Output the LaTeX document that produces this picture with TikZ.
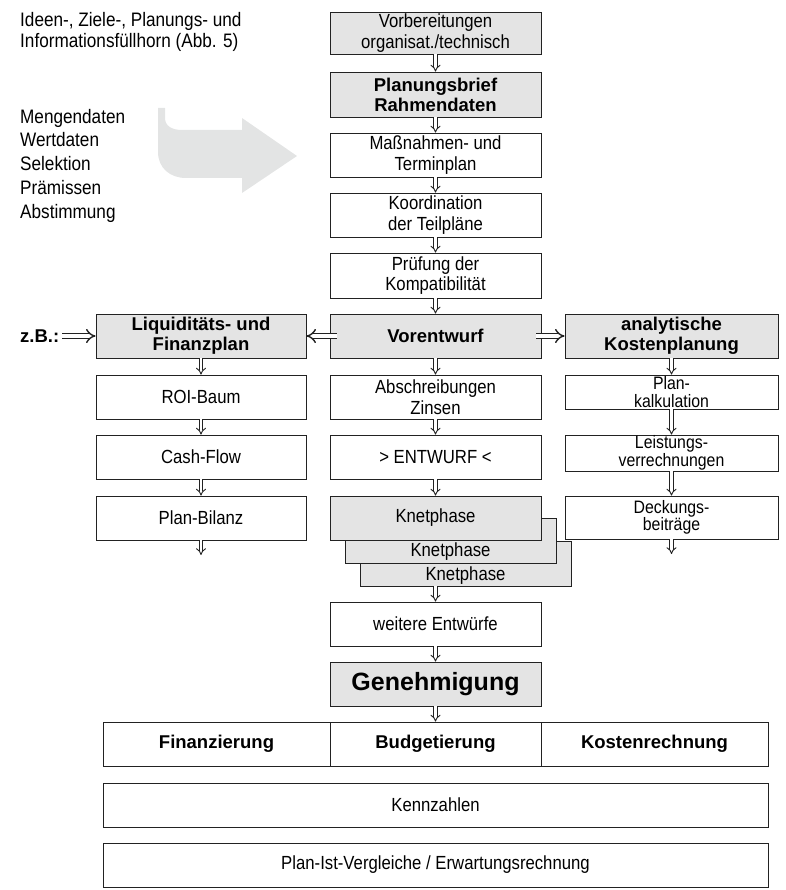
\documentclass[tikz,border=0pt]{standalone}
\usepackage{fontspec}
\setmainfont{Liberation Sans}[FakeStretch=0.88]
\newfontfamily\bfam{Liberation Sans}
\usetikzlibrary{arrows.meta}
\definecolor{boxgray}{HTML}{E4E4E4}
\definecolor{arrowgray}{HTML}{E3E4E4}
\definecolor{linec}{HTML}{222222}
\begin{document}
\begin{tikzpicture}[x=1pt,y=-1pt,
  box/.style={draw=linec, line width=0.9pt, fill=white, inner sep=0pt, align=center,
    minimum width=211pt, minimum height=44pt, font=\fontsize{19}{20.5}\selectfont},
  gbox/.style={box, fill=boxgray},
  boldtxt/.style={font=\bfam\bfseries\fontsize{18.5}{20}\selectfont},
  lbox/.style={box, minimum width=210pt},
  rbox/.style={box, minimum width=213pt, font=\fontsize{18}{17.5}\selectfont},
  darr/.style={draw=linec, double=white, double distance=2.6pt, line width=0.9pt, -{Implies}},
  harr/.style={draw=linec, double=white, double distance=3.4pt, line width=1.4pt, -{Implies}},
  plain/.style={inner sep=0pt, align=left, font=\fontsize{19.5}{21}\selectfont}
]
\useasboundingbox (0,0) rectangle (785,890);

% gray curved arrow
\fill[arrowgray] (158,108) -- (165,108) -- (165,118)
  .. controls (165,126) and (172,130) .. (182,130) -- (242,130) -- (242,118)
  -- (297,156) -- (242,193) -- (242,178) -- (186,178)
  .. controls (170,178) and (158,168) .. (158,152) -- cycle;

% left texts
\node[plain, anchor=west] (idea) at (20,31.5) {Ideen-, Ziele-, Planungs- und\\Informationsfüllhorn (Abb. 5)};
\node[plain, anchor=west, font=\fontsize{19.5}{23.75}\selectfont] (list) at (20,165.5)
  {Mengendaten\\Wertdaten\\Selektion\\Prämissen\\Abstimmung};

% center column
\node[gbox, minimum height=42pt] (v1) at (435.5,33) {Vorbereitungen\\organisat./technisch};
\node[gbox, boldtxt, minimum height=45pt] (v2) at (435.5,94.5) {Planungsbrief\\Rahmendaten};
\node[box] (v3) at (435.5,155) {Maßnahmen- und\\Terminplan};
\node[box] (v4) at (435.5,215) {Koordination\\der Teilpläne};
\node[box, minimum height=45pt] (v5) at (435.5,275.5) {Prüfung der\\Kompatibilität};
\node[gbox, boldtxt] (v6) at (435.5,336) {Vorentwurf};
\node[box] (v7) at (435.5,397) {Abschreibungen\\Zinsen};
\node[box] (v8) at (435.5,457) {> ENTWURF <};
\node[gbox, minimum height=45pt, text height=37pt, text depth=4pt] (k3) at (465.5,563.5) {Knetphase};
\node[gbox, minimum height=45pt, text height=35pt, text depth=4pt] (k2) at (450.5,540.5) {Knetphase};
\node[gbox] (v9) at (435.5,518) {Knetphase};
\node[box] (v10) at (435.5,624) {weitere Entwürfe};
\node[gbox, font=\bfam\bfseries\fontsize{25}{28}\selectfont] (v11) at (435.5,684) {Genehmigung};

% bottom rows
\node[box, boldtxt, minimum width=227pt] (b1) at (216.5,744) {Finanzierung};
\node[box, boldtxt] (b2) at (435.5,744) {Budgetierung};
\node[box, boldtxt, minimum width=227pt] (b3) at (654.5,744) {Kostenrechnung};
\node[box, minimum width=665pt] (kz) at (435.5,805) {Kennzahlen};
\node[box, minimum width=665pt] (pi) at (435.5,865) {Plan-Ist-Vergleiche / Erwartungsrechnung};

% left column
\node[lbox, fill=boxgray, boldtxt] (l1) at (201,336) {Liquiditäts- und\\Finanzplan};
\node[lbox] (l2) at (201,397) {ROI-Baum};
\node[lbox] (l3) at (201,457) {Cash-Flow};
\node[lbox] (l4) at (201,518) {Plan-Bilanz};
\coordinate (lend) at (201,555);

% right column
\node[rbox, fill=boxgray, boldtxt] (r1) at (671.5,336) {analytische\\Kostenplanung};
\node[rbox, minimum height=34pt] (r2) at (671.5,392) {Plan-\\kalkulation};
\node[rbox, minimum height=36pt] (r3) at (671.5,453) {Leistungs-\\verrechnungen};
\node[rbox, minimum height=43pt] (r4) at (671.5,517.5) {Deckungs-\\beiträge};
\coordinate (rend) at (671.5,554);

% z.B.
\node[inner sep=0pt, anchor=west, boldtxt] (zb) at (20,336) {z.B.:};

% vertical arrows center
\draw[darr] (v1.south) -- (v2.north);
\draw[darr] (v2.south) -- (v3.north);
\draw[darr] (v3.south) -- (v4.north);
\draw[darr] (v4.south) -- (v5.north);
\draw[darr] (v5.south) -- (v6.north);
\draw[darr] (v6.south) -- (v7.north);
\draw[darr] (v7.south) -- (v8.north);
\draw[darr] (v8.south) -- (v9.north);
\draw[darr] (v9.south |- k3.south) -- (v10.north);
\draw[darr] (v10.south) -- (v11.north);
\draw[darr] (v11.south) -- (b2.north);
% left
\draw[darr] (l1.south) -- (l2.north);
\draw[darr] (l2.south) -- (l3.north);
\draw[darr] (l3.south) -- (l4.north);
\draw[darr] (l4.south) -- (lend);
% right
\draw[darr] (r1.south) -- (r2.north);
\draw[darr] (r2.south) -- (r3.north);
\draw[darr] (r3.south) -- (r4.north);
\draw[darr] (r4.south) -- (rend);

% horizontal arrows
\draw[harr] ([xshift=7pt]v6.west) -- (l1.east);
\draw[harr] ([xshift=-5pt]v6.east) -- (r1.west);
\draw[harr] ([xshift=3pt]zb.east) -- (l1.west);
\end{tikzpicture}
\end{document}
